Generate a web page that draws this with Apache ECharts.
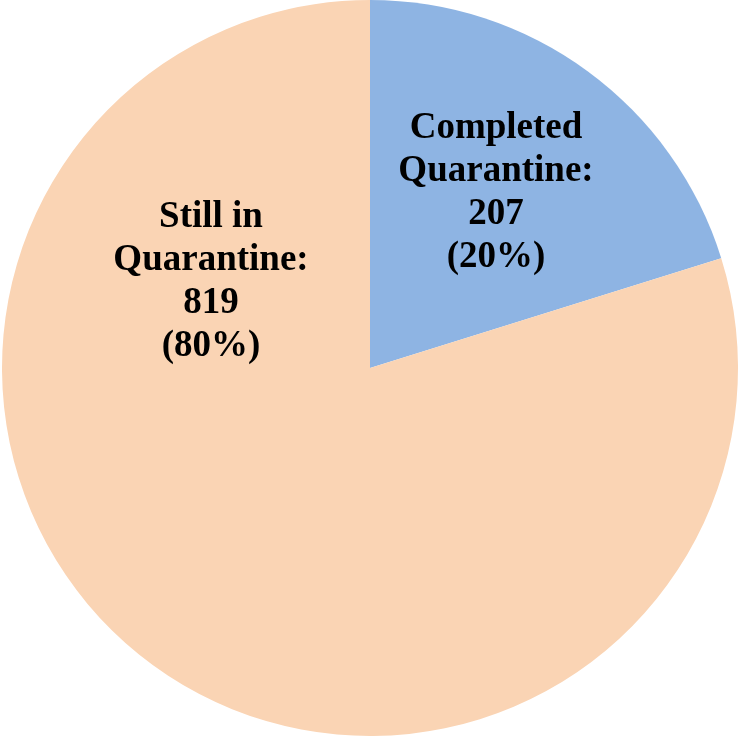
<!DOCTYPE html>
<html>
<head>
<meta charset="utf-8">
<script src="https://cdn.jsdelivr.net/npm/echarts@6/dist/echarts.min.js"></script>
<style>html,body{margin:0;padding:0;background:#fff;}#c{width:739px;height:738px;}</style>
</head>
<body>
<div id="c"></div>
<script>
var categories = ['Completed\nQuarantine:', 'Still in\nQuarantine:'];
var values = [207, 819];
var colors = ['#8EB4E3', '#FAD4B4'];
var labelCenters = [[496, 193], [211, 282]];

var chart = echarts.init(document.getElementById('c'), null, {renderer: 'canvas'});
chart.setOption({
  animation: false,
  backgroundColor: '#ffffff',
  series: [{
    type: 'pie',
    center: [370, 368],
    radius: [0, 368],
    startAngle: 90,
    clockwise: true,
    data: categories.map(function (c, i) {
      return {name: c, value: values[i], itemStyle: {color: colors[i]}};
    }),
    label: {
      show: true,
      position: 'inside',
      formatter: function (p) { return p.name + '\n' + p.value + '\n(' + Math.round(p.percent) + '%)'; },
      fontFamily: '"Liberation Serif", "Times New Roman", serif',
      fontWeight: 'bold',
      fontSize: 37,
      lineHeight: 43,
      color: '#000',
      align: 'center'
    },
    labelLine: {show: false},
    labelLayout: function (params) {
      var p = labelCenters[params.dataIndex];
      return {x: p[0], y: p[1], align: 'center', verticalAlign: 'middle'};
    },
    itemStyle: {borderWidth: 0},
    emphasis: {disabled: true}
  }]
});
</script>
</body>
</html>
